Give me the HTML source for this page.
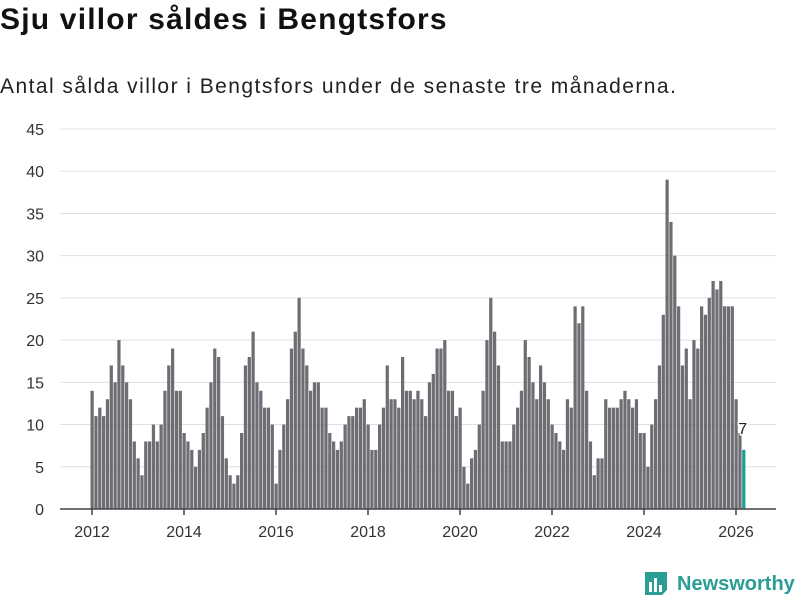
<!DOCTYPE html>
<html><head><meta charset="utf-8"><style>
body{margin:0;background:#fff;font-family:"Liberation Sans",sans-serif;}
#wrap{position:relative;width:800px;height:600px;overflow:hidden}
h1{position:absolute;left:0;top:3px;margin:0;font-size:30px;font-weight:bold;color:#111;letter-spacing:1.2px}
p.sub{position:absolute;left:0;top:75px;margin:0;font-size:21px;color:#222;letter-spacing:1.45px}
</style></head><body>
<div id="wrap">
<h1>Sju villor såldes i Bengtsfors</h1>
<p class="sub">Antal sålda villor i Bengtsfors under de senaste tre månaderna.</p>
<svg id="chart" width="800" height="600" style="position:absolute;left:0;top:0"></svg>
</div>
<script>
const values = [14,11,12,11,13,17,15,20,17,15,13,8,
6,4,8,8,10,8,10,14,17,19,14,14,
9,8,7,5,7,9,12,15,19,18,11,6,
4,3,4,9,17,18,21,15,14,12,12,10,
3,7,10,13,19,21,25,19,17,14,15,15,
12,12,9,8,7,8,10,11,11,12,12,13,
10,7,7,10,12,17,13,13,12,18,14,14,13,
14,13,11,15,16,19,19,20,14,14,11,12,5,3,6,7,10,14,20,25,21,17,8,8,8,10,12,14,20,
18,15,13,17,15,13,10,9,8,7,13,12,24,22,24,14,8,4,6,6,13,12,12,12,13,14,13,12,
13,9,9,5,10,13,17,23,39,34,30,24,17,19,13,20,19,24,23,25,27,26,27,24,24,24,13,9,7];
const yTicks = [0,5,10,15,20,25,30,35,40,45];
const xTickLabels = ["2012","2014","2016","2018","2020","2022","2024","2026"];
const startYear = 2012;

const NS="http://www.w3.org/2000/svg";
const svg=document.getElementById('chart');
const x0=92, monthW=(736-92)/168;
const yBase=509, yUnit=(509-129)/45;
const xScale=i=>x0+i*monthW;
const yScale=v=>yBase-v*yUnit;
function mk(tag,attrs){const e=document.createElementNS(NS,tag);for(const k in attrs)e.setAttribute(k,attrs[k]);svg.appendChild(e);return e;}

yTicks.forEach(t=>{
  const g=mk('line',{x1:60,x2:776,y1:yScale(t),y2:yScale(t),stroke:'#e0e0e0','stroke-width':1});
  
  
  const l=mk('text',{x:44,y:yScale(t)+6,'text-anchor':'end','font-size':16,fill:'#333','font-family':'Liberation Sans, sans-serif'});
  l.textContent=t;
  
  
});

values.forEach((v,i)=>{
  const last=i===values.length-1;
  const r=mk('rect',{x:xScale(i)-1.5,y:yScale(v),width:monthW-0.6,height:v*yUnit,fill:last?'#1a9e96':'#6e6d73'});
  
  
});

const ax=mk('line',{x1:60,x2:776,y1:yBase,y2:yBase,stroke:'#444','stroke-width':1.5});


xTickLabels.forEach(lbl=>{
  const i=(parseInt(lbl)-startYear)*12;
  const tk=mk('line',{x1:xScale(i),x2:xScale(i),y1:yBase,y2:yBase+6,stroke:'#444','stroke-width':1.5});
  
  
  const t=mk('text',{x:xScale(i),y:537,'text-anchor':'middle','font-size':16,fill:'#333','font-family':'Liberation Sans, sans-serif'});
  t.textContent=lbl;
  
  
});

const li=values.length-1;
const vl=mk('text',{x:xScale(li)-1,y:yScale(values[li])-16,'text-anchor':'middle','font-size':16,fill:'#222',stroke:'#fff','stroke-width':3,'paint-order':'stroke','font-family':'Liberation Sans, sans-serif'});
vl.textContent=values[li];



const lg=mk('g',{});


const ic=document.createElementNS(NS,'path');
ic.setAttribute('d','M645 572 h22 v18 l-5 5 h-17 z');
ic.setAttribute('fill','#2a9d95');
lg.appendChild(ic);
[[649,582,3,10],[654,578,3,14],[659,585,3,7]].forEach(b=>{
  const r=document.createElementNS(NS,'rect');
  r.setAttribute('x',b[0]);r.setAttribute('y',b[1]);r.setAttribute('width',b[2]);r.setAttribute('height',b[3]);r.setAttribute('fill','#fff');
  lg.appendChild(r);
});
const lt=document.createElementNS(NS,'text');
lt.setAttribute('x',677);lt.setAttribute('y',590);lt.setAttribute('font-size',20);lt.setAttribute('font-weight','bold');
lt.setAttribute('fill','#2a9d95');lt.setAttribute('font-family','Liberation Sans, sans-serif');
lt.textContent='Newsworthy';
lg.appendChild(lt);
</script>
</body></html>
